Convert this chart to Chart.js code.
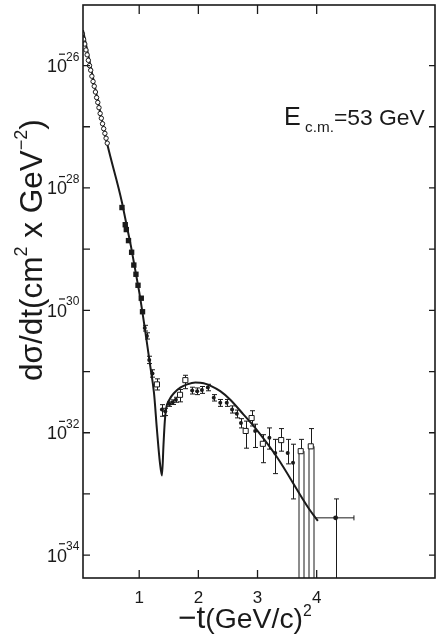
<!DOCTYPE html>
<html>
<head>
<meta charset="utf-8">
<script src="https://cdn.jsdelivr.net/npm/chart.js"></script>
<style>
  html, body { margin: 0; padding: 0; background: #fff; }
  #wrap { width: 440px; height: 635px; }
</style>
</head>
<body>
<div id="wrap"><canvas id="chart" width="440" height="635"></canvas></div>
<script>
// -t in (GeV/c)^2, d(sigma)/dt in cm^2 / GeV^2
var curveT = [0.05, 0.457, 0.71, 1.0, 1.19, 1.25, 1.30, 1.35, 1.385, 1.411, 1.433, 1.456, 1.51, 1.59, 1.70, 1.81, 1.95, 2.09, 2.20, 2.37, 2.54, 2.76, 2.96, 3.33, 3.875, 4.02];
var curveY = [3.8e-26, 5.37e-28, 5.75e-29, 2.0e-30, 1.17e-31, 4.47e-32, 1.12e-32, 3.24e-33, 2.0e-33, 6.46e-33, 1.55e-32, 2.51e-32, 3.47e-32, 4.47e-32, 5.5e-32, 6.17e-32, 6.61e-32, 6.46e-32, 5.89e-32, 4.79e-32, 3.47e-32, 2.0e-32, 1.2e-32, 3.98e-33, 5.62e-34, 3.63e-34];

var circT = [0.04, 0.06, 0.08, 0.10, 0.12, 0.14, 0.16, 0.18, 0.20, 0.22, 0.24, 0.26, 0.28, 0.30, 0.32, 0.34, 0.36, 0.38, 0.40, 0.42, 0.44, 0.46];
var circY = [3.3e-26, 2.7e-26, 2.25e-26, 1.8e-26, 1.5e-26, 1.22e-26, 1.0e-26, 8.4e-27, 6.7e-27, 5.5e-27, 4.6e-27, 3.7e-27, 3.0e-27, 2.5e-27, 2.05e-27, 1.65e-27, 1.38e-27, 1.12e-27, 9.3e-28, 7.8e-28, 6.5e-28, 5.4e-28];

var sqT = [0.709, 0.764, 0.782, 0.819, 0.872, 0.909, 0.945, 0.98, 1.035, 1.056];
var sqY = [4.79e-29, 2.51e-29, 2.09e-29, 1.38e-29, 8.9e-30, 5.5e-30, 3.89e-30, 2.57e-30, 1.58e-30, 9.5e-31];

var dotT  = [1.094, 1.13, 1.17, 1.224, 1.384, 1.44, 1.51, 1.566, 1.62, 1.895, 1.98, 2.06, 2.16, 2.26, 2.37, 2.48, 2.57, 2.65, 2.72, 2.96, 3.20, 3.30, 3.51, 3.60];
var dotY  = [5.13e-31, 3.8e-31, 1.55e-31, 9.33e-32, 2.4e-32, 2.24e-32, 2.95e-32, 3.16e-32, 3.47e-32, 4.9e-32, 4.79e-32, 5.01e-32, 5.5e-32, 3.72e-32, 3.09e-32, 3.09e-32, 2.4e-32, 2.04e-32, 1.45e-32, 1.07e-32, 8.3e-33, 4.68e-33, 4.68e-33, 3.24e-33];
var dotLo = [4.6e-31, 3.4e-31, 1.35e-31, 8.1e-32, 1.86e-32, 1.91e-32, 2.7e-32, 2.9e-32, 3.15e-32, 4.3e-32, 4.2e-32, 4.4e-32, 4.85e-32, 3.3e-32, 2.7e-32, 2.7e-32, 2.1e-32, 1.75e-32, 1.2e-32, 5.75e-33, 5.4e-33, 2.15e-33, 3.1e-33, 8.3e-34];
var dotHi = [5.7e-31, 4.3e-31, 1.78e-31, 1.07e-31, 2.88e-32, 2.51e-32, 3.2e-32, 3.45e-32, 3.8e-32, 5.55e-32, 5.4e-32, 5.7e-32, 6.2e-32, 4.2e-32, 3.5e-32, 3.5e-32, 2.75e-32, 2.35e-32, 1.7e-32, 1.38e-32, 1.2e-32, 7.8e-33, 7.8e-33, 6.5e-33];

var boxT  = [1.30, 1.69, 1.78, 2.80, 2.90, 3.09, 3.40, 3.73, 3.90];
var boxY  = [6.17e-32, 4.17e-32, 7.24e-32, 1.07e-32, 1.74e-32, 6.6e-33, 7.59e-33, 5.0e-33, 6.0e-33];
var boxLo = [5.0e-32, 3.2e-32, 5.25e-32, 5.6e-33, 1.29e-32, 3.24e-33, 5.0e-33, 0, 0];
var boxHi = [7.6e-32, 5.1e-32, 8.7e-32, 1.55e-32, 2.29e-32, 9.3e-33, 1.17e-32, 7.8e-33, 1.17e-32];

var tailT = [4.32], tailY = [4.07e-34], tailLo = [0], tailHi = [8.3e-34];
var tailTLo = [3.98], tailTHi = [4.63];

var xTicks = [1, 2, 3, 4];
var xLabels = ['1', '2', '3', '4'];
var yTicks = [1e-26, 1e-27, 1e-28, 1e-29, 1e-30, 1e-31, 1e-32, 1e-33, 1e-34];
var yLabelTicks = [1e-26, 1e-28, 1e-30, 1e-32, 1e-34];
var yLabelExp = ['26', '28', '30', '32', '34'];

var ink = '#1a1a1a';
var FONT = '"Liberation Sans", Arial, sans-serif';

function pts(xs, ys) {
  return xs.map(function(x, i) { return { x: x, y: ys[i] }; });
}

// parts: [text, size, dy]; draws a run of text, optionally stretched to a width
function drawParts(ctx, parts, x, y, align, fitW) {
  var w = 0;
  parts.forEach(function(p) { ctx.font = p[1] + 'px ' + FONT; w += ctx.measureText(p[0]).width; });
  var k = fitW ? fitW / w : 1;
  var cx = align === 'center' ? x - w * k / 2 : x;
  parts.forEach(function(p) {
    ctx.font = (p[1] * k).toFixed(1) + 'px ' + FONT;
    ctx.fillText(p[0], cx, y + (p[2] || 0) * k);
    cx += ctx.measureText(p[0]).width;
  });
}

var errorBars = {
  id: 'errorBars',
  beforeDatasetsDraw: function(chart) {
    var ctx = chart.ctx, xs = chart.scales.x, ys = chart.scales.y, a = chart.chartArea;
    ctx.save();
    ctx.beginPath(); ctx.rect(a.left, a.top, a.width, a.height); ctx.clip();
    ctx.strokeStyle = ink; ctx.lineWidth = 1;
    chart.data.datasets.forEach(function(ds) {
      if (!ds.errHi) return;
      ds.data.forEach(function(p, i) {
        var px = Math.round(xs.getPixelForValue(p.x)) + 0.5;
        var py = ys.getPixelForValue(p.y);
        var top = ys.getPixelForValue(ds.errHi[i]);
        var toAxis = !(ds.errLo[i] > 0);
        var bot = toAxis ? a.bottom : ys.getPixelForValue(ds.errLo[i]);
        ctx.beginPath();
        ctx.moveTo(px, top); ctx.lineTo(px, py);
        if (toAxis && ds.boxSides) {
          ctx.moveTo(px - 2.5, py); ctx.lineTo(px - 2.5, bot);
          ctx.moveTo(px + 2.5, py); ctx.lineTo(px + 2.5, bot);
        } else {
          ctx.lineTo(px, bot);
        }
        ctx.moveTo(px - 2.5, top); ctx.lineTo(px + 2.5, top);
        if (!toAxis) { ctx.moveTo(px - 2.5, bot); ctx.lineTo(px + 2.5, bot); }
        if (ds.errXLo) {
          var l = xs.getPixelForValue(ds.errXLo[i]), r = xs.getPixelForValue(ds.errXHi[i]);
          ctx.moveTo(l, py); ctx.lineTo(r, py);
          ctx.moveTo(r, py - 2.5); ctx.lineTo(r, py + 2.5);
        }
        ctx.stroke();
      });
    });
    ctx.restore();
  }
};

var frame = {
  id: 'frame',
  afterDraw: function(chart) {
    var ctx = chart.ctx, xs = chart.scales.x, ys = chart.scales.y, a = chart.chartArea;
    ctx.save();
    ctx.strokeStyle = ink; ctx.lineWidth = 1.6;
    ctx.strokeRect(a.left, a.top, a.right - a.left, a.bottom - a.top);
    ctx.lineWidth = 1.3;
    ctx.beginPath();
    yTicks.forEach(function(v) {
      var py = ys.getPixelForValue(v);
      ctx.moveTo(a.left, py); ctx.lineTo(a.left + 7, py);
      ctx.moveTo(a.right, py); ctx.lineTo(a.right - 6, py);
    });
    xTicks.forEach(function(v) {
      var px = xs.getPixelForValue(v);
      ctx.moveTo(px, a.top); ctx.lineTo(px, a.top + 9);
      ctx.moveTo(px, a.bottom); ctx.lineTo(px, a.bottom - 8);
    });
    ctx.stroke();

    ctx.fillStyle = ink;
    ctx.textBaseline = 'alphabetic';
    // y tick labels 10^-n
    yLabelTicks.forEach(function(v, i) {
      var py = ys.getPixelForValue(v);
      ctx.textAlign = 'right';
      ctx.font = '18px ' + FONT;
      ctx.fillText('10', 67, py + 6.5);
      ctx.textAlign = 'left';
      ctx.font = '12px ' + FONT;
      ctx.fillText(yLabelExp[i], 66, py - 5);
      ctx.fillRect(59, py - 12, 6, 1.2);
    });
    // x tick labels
    ctx.textAlign = 'center';
    ctx.font = '17px ' + FONT;
    xTicks.forEach(function(v, i) {
      ctx.fillText(xLabels[i], xs.getPixelForValue(v), 603);
    });
    ctx.textAlign = 'left';
    // x title
    drawParts(ctx, [['\u2212t', 30], ['(GeV/c)', 27], ['2', 15, -11]], 178, 628, 'left', 134);
    // annotation
    drawParts(ctx, [['E', 23], [' c.m.', 14, 6], ['=53 GeV', 21]], 284, 125, 'left', 141);
    // y title
    ctx.save();
    ctx.translate(42, 250);
    ctx.rotate(-Math.PI / 2);
    drawParts(ctx, [['d\u03c3/dt(cm', 28], ['2', 16, -13], [' x GeV', 28], ['\u22122', 16, -13], [')', 28]], 0, 0, 'center', 262);
    ctx.restore();
    ctx.restore();
  }
};

new Chart(document.getElementById('chart'), {
  type: 'scatter',
  data: {
    datasets: [
      { label: 'circles', data: pts(circT, circY), pointStyle: 'circle', pointRadius: 2.2, borderWidth: 1, borderColor: ink, backgroundColor: '#fff' },
      { label: 'squares', data: pts(sqT, sqY), pointStyle: 'rect', pointRadius: 3.8, borderWidth: 0, backgroundColor: ink },
      { label: 'boxes', data: pts(boxT, boxY), pointStyle: 'rect', pointRadius: 3.6, borderWidth: 1, borderColor: ink, backgroundColor: '#fff', errLo: boxLo, errHi: boxHi, boxSides: true },
      { label: 'dots', data: pts(dotT, dotY), pointStyle: 'circle', pointRadius: 2, borderWidth: 0, backgroundColor: ink, errLo: dotLo, errHi: dotHi },
      { label: 'tail', data: pts(tailT, tailY), pointStyle: 'circle', pointRadius: 2.4, borderWidth: 0, backgroundColor: ink, errLo: tailLo, errHi: tailHi, errXLo: tailTLo, errXHi: tailTHi },
      { label: 'fit', data: pts(curveT, curveY), showLine: true, borderColor: ink, borderWidth: 2, pointRadius: 0, cubicInterpolationMode: 'monotone', fill: false }
    ]
  },
  options: {
    responsive: false,
    animation: false,
    layout: { padding: { top: 1, right: 2, left: 0, bottom: 0 } },
    plugins: { legend: { display: false }, tooltip: { enabled: false } },
    scales: {
      x: {
        type: 'linear', min: 0.05, max: 6,
        grid: { display: false, drawTicks: false },
        border: { display: false },
        ticks: { display: false },
        afterFit: function(s) { s.height = 57; }
      },
      y: {
        type: 'logarithmic', min: 4.234e-35, max: 9.769e-26,
        grid: { display: false, drawTicks: false },
        border: { display: false },
        ticks: { display: false },
        afterFit: function(s) { s.width = 83; }
      }
    }
  },
  plugins: [errorBars, frame]
});
</script>
</body>
</html>
